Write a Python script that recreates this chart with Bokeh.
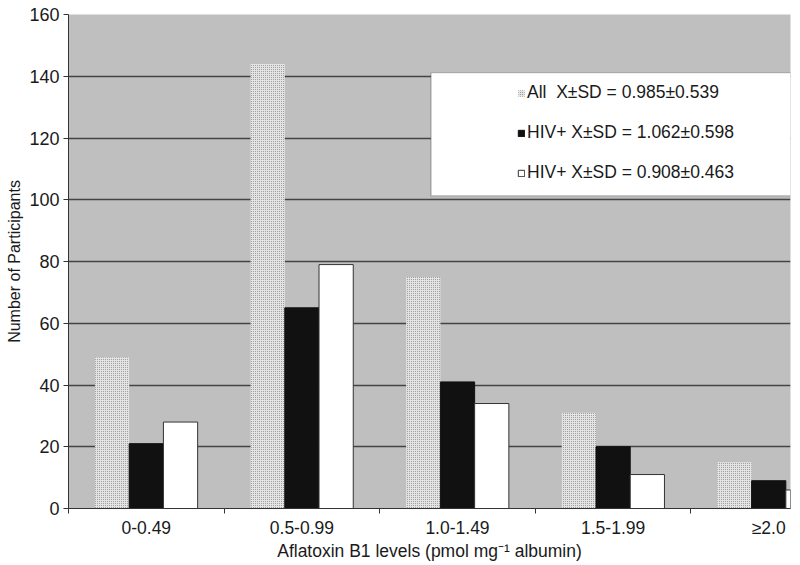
from bokeh.plotting import figure
from bokeh.models import (Range1d, FixedTicker, BoxAnnotation, Legend, LegendItem,
                          ColumnDataSource)
from bokeh.embed import file_html
from bokeh.resources import INLINE

# ---- data ----
categories = ["0-0.49", "0.5-0.99", "1.0-1.49", "1.5-1.99", "\u22652.0"]
all_counts = [49, 144, 75, 31, 15]
hiv_pos_counts = [21, 65, 41, 20, 9]
hiv_neg_counts = [28, 79, 34, 11, 6]
y_ticks = [0, 20, 40, 60, 80, 100, 120, 140, 160]
legend_labels = ["All  X\u00b1SD = 0.985\u00b10.539",
                 "HIV+ X\u00b1SD = 1.062\u00b10.598",
                 "HIV+ X\u00b1SD = 0.908\u00b10.463"]
x_title = "Aflatoxin B1 levels (pmol mg\u207b\u00b9 albumin)"
y_title = "Number of Participants"

FONT = "Liberation Sans"
TXT = "#1a1a1a"

n = len(categories)
centers = [i + 0.5 for i in range(n)]
bw = 0.22

src = ColumnDataSource(dict(
    x_all=[c - bw for c in centers], x_pos=centers, x_neg=[c + bw for c in centers],
    all=all_counts, pos=hiv_pos_counts, neg=hiv_neg_counts))

p = figure(frame_width=722, frame_height=494, output_backend="svg", toolbar_location=None,
           x_range=Range1d(0, 4.64), y_range=Range1d(0, 160),
           min_border_left=68, min_border_right=2, min_border_top=14, min_border_bottom=44)
p.background_fill_color = "#bfbfbf"
p.border_fill_color = "white"
p.outline_line_color = None

r_all = p.vbar(x="x_all", top="all", width=bw, source=src, fill_color="#e4e4e4",
               line_color=None, hatch_pattern="dot", hatch_scale=2, hatch_weight=1,
               hatch_color="#8a8a8a")
r_pos = p.vbar(x="x_pos", top="pos", width=bw, source=src, fill_color="#111111",
               line_color="#111111", line_width=1)
r_neg = p.vbar(x="x_neg", top="neg", width=bw, source=src, fill_color="#ffffff",
               line_color="#333333", line_width=1)

# grid
p.xgrid.visible = False
p.ygrid.ticker = FixedTicker(ticks=y_ticks)
p.ygrid.grid_line_color = "#444444"
p.ygrid.grid_line_width = 1.3

# y axis
p.yaxis.ticker = FixedTicker(ticks=y_ticks)
p.yaxis.axis_label = y_title
p.yaxis.axis_label_text_font = FONT
p.yaxis.axis_label_text_font_style = "normal"
p.yaxis.axis_label_text_font_size = "16px"
p.yaxis.axis_label_text_color = TXT
p.yaxis.axis_label_standoff = 3
p.yaxis.major_label_text_font = FONT
p.yaxis.major_label_text_font_size = "18px"
p.yaxis.major_label_text_color = TXT
p.yaxis.major_label_standoff = 4
p.yaxis.major_tick_out = 5
p.yaxis.major_tick_in = 0
p.yaxis.minor_tick_line_color = None
p.yaxis.axis_line_color = "#333333"
p.yaxis.major_tick_line_color = "#333333"

# x axis
p.xaxis.ticker = FixedTicker(ticks=centers, minor_ticks=[float(i) for i in range(n)])
p.xaxis.major_label_overrides = {c: lab for c, lab in zip(centers, categories)}
p.xaxis.axis_label = x_title
p.xaxis.axis_label_text_font = FONT
p.xaxis.axis_label_text_font_style = "normal"
p.xaxis.axis_label_text_font_size = "17.5px"
p.xaxis.axis_label_text_color = TXT
p.xaxis.axis_label_standoff = 0
p.xaxis.major_label_text_font = FONT
p.xaxis.major_label_text_font_size = "17.5px"
p.xaxis.major_label_text_color = TXT
p.xaxis.major_label_standoff = 4
p.xaxis.major_tick_out = 0
p.xaxis.major_tick_in = 0
p.xaxis.major_tick_line_color = None
p.xaxis.minor_tick_out = 5
p.xaxis.minor_tick_in = 0
p.xaxis.minor_tick_line_color = "#333333"
p.xaxis.axis_line_color = "#333333"

# legend box (with shadow line)
p.add_layout(BoxAnnotation(left=2.33, right=4.665, top=140.2, bottom=100.5,
                           fill_color=None, line_color="#999999", line_width=1.2))
p.add_layout(BoxAnnotation(left=2.33, right=4.645, top=141.2, bottom=101.3,
                           fill_color="white", fill_alpha=1.0, line_color="#333333",
                           line_width=1.2))

legend = Legend(items=[LegendItem(label=legend_labels[0], renderers=[r_all]),
                       LegendItem(label=legend_labels[1], renderers=[r_pos]),
                       LegendItem(label=legend_labels[2], renderers=[r_neg])],
                location=(449, 325), glyph_width=8, glyph_height=8,
                label_text_font=FONT, label_text_font_size="17.5px",
                label_text_color=TXT, label_standoff=2, spacing=19, padding=0,
                margin=0, border_line_color=None, background_fill_alpha=0,
                label_height=20)
p.add_layout(legend)

open("out.html", "w").write(file_html(p, INLINE))
